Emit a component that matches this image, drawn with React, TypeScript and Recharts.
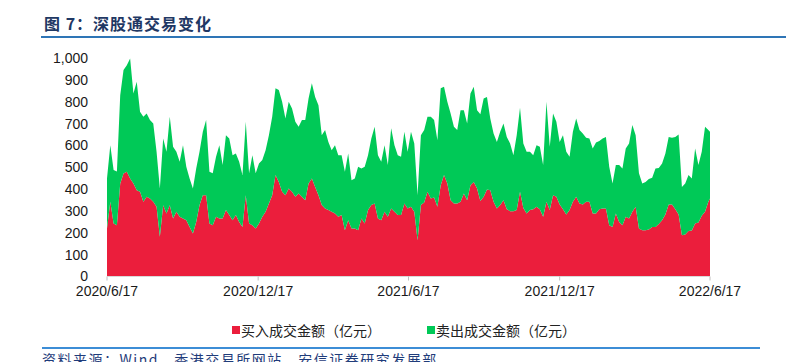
import { AreaChart, Area, XAxis, YAxis } from "recharts";

// 深股通 daily turnover, sampled every 4 calendar days from 2020/6/17 (亿元)
const BUY = [
  220, 342, 243, 235, 426, 471, 479, 449, 426, 395, 388, 342, 365, 357, 342, 319, 182, 326, 288, 326,
  266, 296, 273, 266, 258, 227, 197, 250, 326, 372, 372, 243, 235, 273, 266, 266, 304, 281, 258, 281,
  250, 227, 372, 243, 235, 220, 243, 273, 296, 334, 372, 464, 433, 388, 372, 403, 388, 365, 380, 365,
  349, 426, 449, 410, 372, 327, 311, 304, 296, 288, 273, 281, 212, 258, 220, 220, 212, 266, 243, 304,
  327, 334, 266, 258, 296, 273, 311, 296, 281, 281, 334, 311, 319, 296, 166, 327, 339, 388, 357, 361,
  319, 418, 464, 426, 349, 334, 334, 342, 380, 349, 418, 433, 403, 345, 365, 398, 395, 342, 311, 327,
  349, 308, 299, 299, 304, 388, 314, 288, 304, 308, 319, 308, 273, 342, 304, 372, 365, 330, 308, 284,
  304, 342, 365, 334, 330, 342, 342, 288, 288, 308, 311, 311, 235, 227, 288, 250, 235, 273, 266, 296,
  319, 220, 212, 212, 215, 227, 227, 240, 258, 284, 330, 330, 308, 284, 189, 192, 208, 211, 243, 247,
  278, 296, 342, 357,
];

const SELL = [
  229, 259, 244, 245, 404, 474, 488, 549, 412, 496, 366, 389, 381, 359, 358, 252, 221, 306, 283, 405,
  328, 275, 252, 335, 244, 222, 206, 244, 245, 290, 344, 236, 237, 275, 335, 244, 343, 351, 297, 282,
  275, 237, 336, 229, 320, 252, 274, 260, 282, 313, 359, 397, 420, 412, 351, 397, 381, 343, 305, 351,
  367, 389, 435, 412, 412, 320, 359, 312, 282, 313, 282, 274, 267, 305, 221, 229, 290, 228, 259, 251,
  305, 351, 289, 267, 305, 237, 367, 305, 274, 267, 328, 260, 343, 313, 206, 320, 331, 343, 374, 355,
  305, 443, 404, 374, 397, 351, 336, 419, 381, 351, 420, 435, 358, 397, 450, 424, 328, 313, 305, 335,
  351, 331, 310, 256, 343, 384, 295, 283, 267, 247, 282, 286, 237, 458, 290, 374, 343, 286, 339, 287,
  244, 320, 358, 336, 325, 293, 290, 298, 325, 312, 321, 328, 267, 199, 222, 260, 259, 313, 343, 397,
  328, 252, 214, 221, 231, 225, 267, 257, 259, 279, 309, 305, 331, 366, 221, 234, 256, 238, 343, 263,
  293, 389, 328, 305,
];

const STEP_DAYS = 4;
const LAST_DAY = 730;
const TICK_DAYS = [0, 183, 365, 548, 730];
const TICK_LABELS = ["2020/6/17", "2020/12/17", "2021/6/17", "2021/12/17", "2022/6/17"];
const Y_TICKS = [0, 100, 200, 300, 400, 500, 600, 700, 800, 900, 1000];

const RED = "#EB1E3C";
const GREEN = "#00C957";

const data = BUY.map((b, i) => ({
  day: Math.min(i * STEP_DAYS, LAST_DAY),
  buy: b,
  sell: SELL[i],
}));

const tickStyle = { fontSize: 14, fill: "#1a1a1a", fontFamily: "'Liberation Sans', Arial, sans-serif" };
const cjk = "'Noto Sans CJK SC', sans-serif";

export default function App() {
  return (
    <div
      style={{
        position: "absolute",
        left: 0,
        top: 0,
        width: 786,
        height: 362,
        overflow: "hidden",
        background: "#fff",
      }}
    >
      {/* Title */}
      <div
        style={{
          position: "absolute",
          left: 44,
          top: 13,
          fontFamily: cjk,
          fontSize: 16,
          fontWeight: 700,
          letterSpacing: 1,
          color: "#1F3864",
          lineHeight: "20px",
          whiteSpace: "nowrap",
        }}
      >
        图 7：深股通交易变化
      </div>
      <div style={{ position: "absolute", left: 41, top: 36, width: 745, height: 2, background: "#2E75B6" }} />

      <div style={{ position: "absolute", left: 0, top: 0 }}>
        <AreaChart width={786} height={312} data={data} margin={{ top: 58, right: 76, bottom: 3.5, left: 47 }}>
          <XAxis
            dataKey="day"
            type="number"
            domain={[0, LAST_DAY]}
            ticks={TICK_DAYS}
            tickFormatter={(v: number) => TICK_LABELS[TICK_DAYS.indexOf(v)] ?? ""}
            tick={tickStyle}
            axisLine={{ stroke: "#D9D9D9" }}
            tickLine={{ stroke: "#BFBFBF" }}
            tickSize={4}
            tickMargin={6}
            height={32}
            interval={0}
          />
          <YAxis
            domain={[0, 1000]}
            ticks={Y_TICKS}
            tickFormatter={(v: number) => v.toLocaleString("en-US")}
            tick={tickStyle}
            axisLine={false}
            tickLine={false}
            tickSize={0}
            tickMargin={19}
            width={60}
            interval={0}
          />
          <Area
            type="linear"
            dataKey="buy"
            stackId="a"
            stroke="none"
            fill={RED}
            fillOpacity={1}
            isAnimationActive={false}
          />
          <Area
            type="linear"
            dataKey="sell"
            stackId="a"
            stroke="none"
            fill={GREEN}
            fillOpacity={1}
            isAnimationActive={false}
          />
        </AreaChart>
      </div>

      {/* Legend */}
      <div style={{ position: "absolute", left: 232, top: 326, width: 8, height: 8, background: RED }} />
      <div
        style={{ position: "absolute", left: 241, top: 320, fontFamily: cjk, fontSize: 14, lineHeight: "20px", color: "#222" }}
      >
        买入成交金额（亿元）
      </div>
      <div style={{ position: "absolute", left: 427, top: 326, width: 8, height: 8, background: GREEN }} />
      <div
        style={{ position: "absolute", left: 436, top: 320, fontFamily: cjk, fontSize: 14, lineHeight: "20px", color: "#222" }}
      >
        卖出成交金额（亿元）
      </div>

      {/* Source */}
      <div style={{ position: "absolute", left: 42, top: 347, width: 718, height: 2, background: "#3C8DD6" }} />
      <div
        style={{
          position: "absolute",
          left: 42,
          top: 350,
          fontFamily: cjk,
          fontSize: 14,
          lineHeight: "18px",
          letterSpacing: 1.5,
          color: "#1F3C7A",
          whiteSpace: "nowrap",
        }}
      >
        资料来源：Wind，香港交易所网站，安信证券研究发展部
      </div>
    </div>
  );
}
